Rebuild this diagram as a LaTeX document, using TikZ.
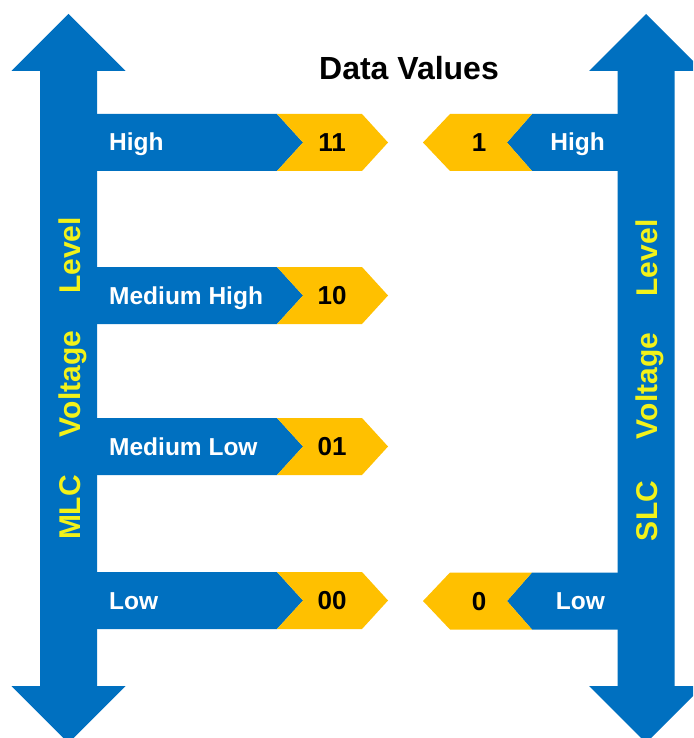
\documentclass[tikz,border=0pt]{standalone}
\usepackage{fontspec}
\setmainfont{Liberation Sans}
\definecolor{barblue}{HTML}{0070C0}
\definecolor{baryellow}{HTML}{FFC000}
\definecolor{txtyellow}{HTML}{F2F21A}
\begin{document}
\begin{tikzpicture}[x=1pt,y=-1pt,
  lbl/.style={font=\fontsize{24.5}{26}\selectfont\bfseries, text=white, inner sep=0pt},
  num/.style={font=\fontsize{26}{28}\selectfont\bfseries, text=black, inner sep=0pt},
  vlbl/.style={font=\fontsize{30}{32}\selectfont\bfseries, text=txtyellow, rotate=90, inner sep=0pt, anchor=base},
  bluebar/.style={fill=barblue},
  yellowbar/.style={fill=baryellow}]
\useasboundingbox (0,0) rectangle (693,738);
\clip (0,0) rectangle (693,738);
\fill[white] (0,0) rectangle (693,738);

% left double arrow
\fill[barblue] (68.5,14) -- (125.5,71) -- (97,71) -- (97,686) -- (125.5,686) -- (68.5,743)
  -- (11.5,686) -- (40,686) -- (40,71) -- (11.5,71) -- cycle;
% right double arrow
\fill[barblue] (646,14) -- (703,71) -- (674.5,71) -- (674.5,686) -- (703,686) -- (646,743)
  -- (589,686) -- (617.5,686) -- (617.5,71) -- (589,71) -- cycle;

% left bars (MLC)
\foreach \m/\lab/\n in {142.5/High/11, 295.5/Medium High/10, 446.5/Medium Low/01, 600.5/Low/00}{
  \fill[bluebar] (68,\m-28.5) -- (277,\m-28.5) -- (303,\m) -- (277,\m+28.5) -- (68,\m+28.5) -- cycle;
  \fill[yellowbar] (277,\m-28.5) -- (362,\m-28.5) -- (388,\m) -- (362,\m+28.5) -- (277,\m+28.5) -- (303,\m) -- cycle;
  \node[lbl, anchor=base west] (mlab\n) at (109,\m+8.5) {\lab};
  \node[num, anchor=base] (mval\n) at (332,\m+9.3) {\n};
}

% right bars (SLC)
\foreach \m/\lab/\n in {142.5/High/1, 601/Low/0}{
  \fill[bluebar] (646,\m-28.5) -- (532,\m-28.5) -- (507,\m) -- (532,\m+28.5) -- (646,\m+28.5) -- cycle;
  \fill[yellowbar] (532,\m-28.5) -- (450,\m-28.5) -- (423,\m) -- (450,\m+28.5) -- (532,\m+28.5) -- (507,\m) -- cycle;
  \node[lbl, anchor=base east] (slab\n) at (605,\m+8.5) {\lab};
  \node[num, anchor=base] (sval\n) at (479,\m+9.3) {\n};
}

% title
\node[font=\fontsize{32}{34}\selectfont\bfseries, inner sep=0pt, anchor=base] (title) at (409,80) {Data Values};

% vertical axis labels
\node[vlbl] (mlc1) at (80.5,507.5) {MLC};
\node[vlbl] (mlc2) at (80.5,384) {Voltage};
\node[vlbl] (mlc3) at (80.5,255.5) {Level};
\node[vlbl] (slc1) at (657.5,511) {SLC};
\node[vlbl] (slc2) at (657.5,386) {Voltage};
\node[vlbl] (slc3) at (657.5,258) {Level};
\end{tikzpicture}
\end{document}
